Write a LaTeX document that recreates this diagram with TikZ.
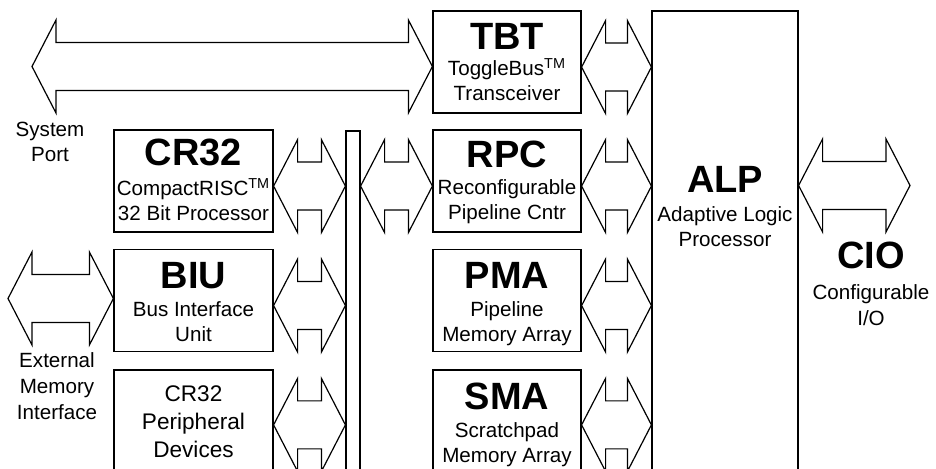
\documentclass[tikz,border=0pt]{standalone}
\usepackage{fontspec}
\setmainfont{Liberation Sans}
\usetikzlibrary{calc}

% double-headed bus arrow: left tip #1, right tip on the x of #2
\newcommand{\busarrow}[2]{%
  \coordinate (tipL) at (#1);
  \coordinate (tipR) at (tipL -| #2);
  \draw[bus line] (tipL) -- ++(24,-46.5) -- ++(0,22.5) -- ($(tipR)+(-24,-24)$) -- ++(0,-22.5) -- (tipR)
    -- ++(-24,46.5) -- ++(0,-22.5) -- ($(tipL)+(24,24)$) -- ++(0,22.5) -- cycle;
}

\begin{document}
\begin{tikzpicture}[
    x=0.5pt, y=-0.5pt,
    unit box/.style={draw, line width=0.6pt, inner sep=0pt, minimum width=74pt, minimum height=51pt},
    core box/.style={unit box, minimum width=79.5pt},
    blocktitle/.style={font=\fontsize{19}{22}\selectfont\bfseries, inner sep=0pt, anchor=base},
    blocktext/.style={font=\fontsize{10.3}{12.5}\selectfont, align=center, inner sep=0pt, anchor=base},
    bus line/.style={draw, line width=0.6pt, line join=miter}
  ]
  \useasboundingbox (0,0) rectangle (936,469);
  \clip (0,0) rectangle (936,469);

  % Blocks
  \node[unit box] (tbt) at (507,62) {};
  \node[unit box] (rpc) at (507,181) {};
  \node[unit box] (pma) at (507,300.5) {};
  \node[unit box] (sma) at (507,421) {};
  \node[core box] (cr32) at (193.5,181) {};
  \node[core box] (biu) at (193.5,300.5) {};
  \node[core box] (periph) at (193.5,421) {};
  \node[draw, line width=0.6pt, inner sep=0pt, minimum width=7pt, minimum height=175pt] (bus) at (353,306) {};
  \node[draw, line width=0.6pt, inner sep=0pt, minimum width=73pt, minimum height=235pt] (alp) at (725,246) {};

  % Block texts (multi-line texts sit on their last baseline)
  \node[blocktitle] (tbt title) at ($(tbt.north)+(0,39)$) {TBT};
  \node[blocktext] (tbt text) at ($(tbt.north)+(0,90)$) {ToggleBus\textsuperscript{TM}\\Transceiver};
  \node[blocktitle] (rpc title) at ($(rpc.north)+(0,38)$) {RPC};
  \node[blocktext] (rpc text) at ($(rpc.north)+(0,90)$) {Reconfigurable\\Pipeline Cntr};
  \node[blocktitle] (pma title) at ($(pma.north)+(0,40)$) {PMA};
  \node[blocktext] (pma text) at ($(pma.north)+(0,93)$) {Pipeline\\Memory Array};
  \node[blocktitle] (sma title) at ($(sma.north)+(0,40)$) {SMA};
  \node[blocktext] (sma text) at ($(sma.north)+(0,93)$) {Scratchpad\\Memory Array};
  \node[blocktitle] (cr32 title) at ($(cr32.north)+(0,36)$) {CR32};
  \node[blocktext] (cr32 text) at ($(cr32.north)+(0,91)$) {CompactRISC\textsuperscript{TM}\\32 Bit Processor};
  \node[blocktitle] (biu title) at ($(biu.north)+(0,40)$) {BIU};
  \node[blocktext] (biu text) at ($(biu.north)+(0,93)$) {Bus Interface\\Unit};
  \node[blocktext, font=\fontsize{11.3}{14}\selectfont] (periph text) at ($(periph.north)+(0,88)$) {CR32\\Peripheral\\Devices};
  \node[blocktitle] (alp title) at (725,193) {ALP};
  \node[blocktext] (alp text) at (725,247) {Adaptive Logic\\Processor};

  % Outside ports
  \coordinate (sysport) at (32,66.5);
  \coordinate (extmem) at (8,298.5);
  \coordinate (cio) at (910,185.5);
  \node[blocktext] (sysport text) at (50,162) {System\\Port};
  \node[blocktext, font=\fontsize{10.3}{13}\selectfont] (extmem text) at (57,420) {External\\Memory\\Interface};
  \node[blocktitle] (cio title) at (871,269) {CIO};
  \node[blocktext, font=\fontsize{10.3}{13}\selectfont] (cio text) at (871,326) {Configurable\\I/O};

  % Bus arrows
  \busarrow{sysport}{tbt.west}
  \busarrow{$(tbt.south east)+(0,-46.5)$}{alp.west}
  \busarrow{$(cr32.south east)+(0,-46.5)$}{bus.west}
  \busarrow{$(bus.east |- rpc.south)+(0,-46.5)$}{rpc.west}
  \busarrow{$(rpc.south east)+(0,-46.5)$}{alp.west}
  \busarrow{alp.east |- cio}{cio}
  \busarrow{extmem}{biu.west}
  \busarrow{$(biu.south east)+(0,-46.5)$}{bus.west}
  \busarrow{$(pma.south east)+(0,-46.5)$}{alp.west}
  \busarrow{$(periph.north east)+(0,55.5)$}{bus.west}
  \busarrow{$(sma.north east)+(0,55.5)$}{alp.west}
\end{tikzpicture}
\end{document}
